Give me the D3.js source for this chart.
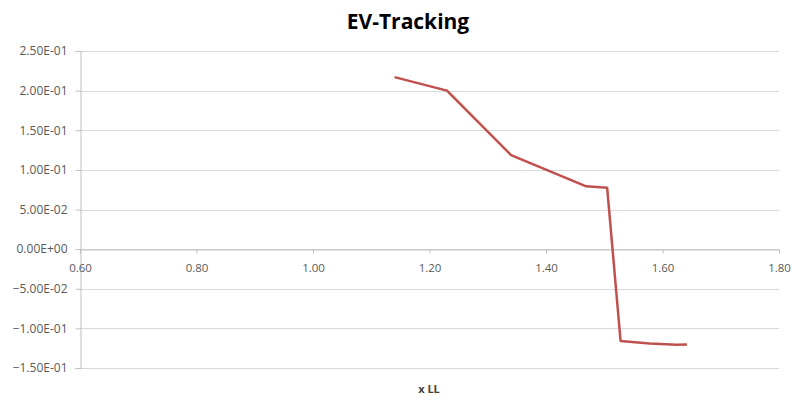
<!DOCTYPE html>
<html>
<head>
<meta charset="utf-8">
<script src="https://cdn.jsdelivr.net/npm/d3@7"></script>
<style>
  body { margin: 0; background: #fff; }
  text { font-family: "Open Sans", "Liberation Sans", sans-serif; }
</style>
</head>
<body>
<svg id="chart"></svg>
<script>
const xValues = [1.14, 1.23, 1.34, 1.469, 1.505, 1.528, 1.578, 1.624, 1.642];
const yValues = [0.217, 0.200, 0.1187, 0.0792, 0.0774, -0.1158, -0.119, -0.1208, -0.1203];
const xTicks = [0.6, 0.8, 1.0, 1.2, 1.4, 1.6, 1.8];
const yTicks = [-0.15, -0.1, -0.05, 0, 0.05, 0.1, 0.15, 0.2, 0.25];
const title = 'EV-Tracking';
const xLabel = 'x LL';

const width = 791;
const height = 399;
const margin = { top: 51, right: 12, bottom: 31, left: 80 };

const svg = d3.select('#chart')
  .attr('width', width)
  .attr('height', height);

const x = d3.scaleLinear().domain([0.6, 1.8]).range([margin.left, width - margin.right]);
const y = d3.scaleLinear().domain([-0.15, 0.25]).range([height - margin.bottom, margin.top]);

// gridlines
svg.append('g')
  .selectAll('line')
  .data(yTicks)
  .enter().append('line')
    .attr('x1', x(0.6))
    .attr('x2', x(1.8))
    .attr('y1', d => Math.round(y(d)) + 0.5)
    .attr('y2', d => Math.round(y(d)) + 0.5)
    .attr('stroke', '#d9d9d9')
    .attr('stroke-width', 1);

// y axis
const yAxis = svg.append('g')
  .attr('transform', `translate(${margin.left + 0.5},0)`)
  .call(d3.axisLeft(y).tickValues(yTicks).tickSize(5).tickPadding(8)
    .tickFormat(d => d3.format('.2e')(d).toUpperCase().replace(/E([+-])(\d)$/, 'E$10$2')));
yAxis.select('.domain').attr('stroke', '#bfbfbf');
yAxis.selectAll('.tick line').attr('stroke', '#bfbfbf');
yAxis.selectAll('.tick text').attr('fill', '#595959').style('font-size', '12px');

// x axis at y = 0
const xAxis = svg.append('g')
  .attr('transform', `translate(0,${Math.round(y(0)) + 0.5})`)
  .call(d3.axisBottom(x).tickValues(xTicks).tickSize(4).tickPadding(10)
    .tickFormat(d3.format('.2f')));
xAxis.select('.domain').attr('stroke', '#bfbfbf');
xAxis.selectAll('.tick line').attr('stroke', '#bfbfbf');
xAxis.selectAll('.tick text').attr('fill', '#595959').style('font-size', '11.5px');

// series
const data = xValues.map((d, i) => ({ x: d, y: yValues[i] }));
svg.append('path')
  .datum(data)
  .attr('fill', 'none')
  .attr('stroke', '#c0504d')
  .attr('stroke-width', 2.5)
  .attr('stroke-linejoin', 'round')
  .attr('d', d3.line().x(d => x(d.x)).y(d => y(d.y)));

// title
svg.append('text')
  .attr('x', 408)
  .attr('y', 29)
  .attr('text-anchor', 'middle')
  .style('font-size', '21px')
  .style('font-weight', 'bold')
  .attr('fill', '#000')
  .text(title);

// x label
svg.append('text')
  .attr('x', 429)
  .attr('y', 393)
  .attr('text-anchor', 'middle')
  .style('font-size', '11px')
  .style('font-weight', 'bold')
  .attr('fill', '#404040')
  .text(xLabel);
</script>
</body>
</html>
